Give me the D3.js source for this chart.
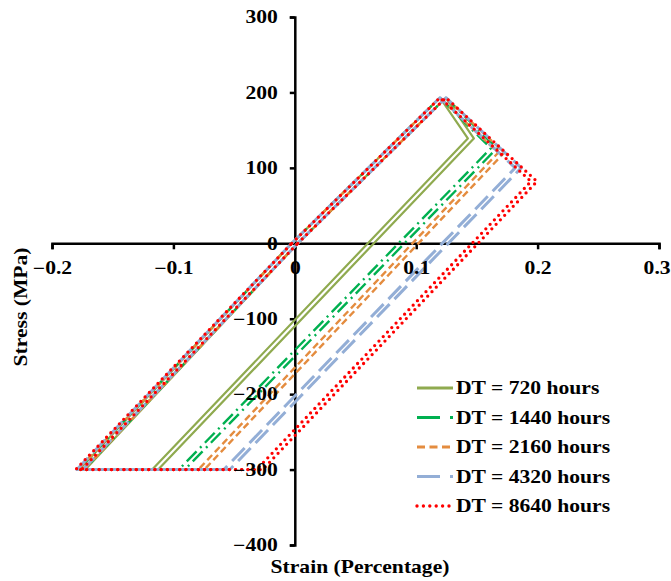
<!DOCTYPE html>
<html>
<head>
<meta charset="utf-8">
<script src="https://cdn.jsdelivr.net/npm/d3@7"></script>
<style>
  body { margin: 0; background: #fff; }
  text { font-family: "Liberation Serif", "Times New Roman", serif; font-weight: bold; font-size: 18px; fill: #000; }
</style>
</head>
<body>
<div id="chart"></div>
<script>
var svgWidth = 671;
var svgHeight = 581;

// tick labels
var xTicks = [-0.2, -0.1, 0, 0.1, 0.2, 0.3];
var yTicks = [300, 200, 100, 0, -100, -200, -300, -400];

// series: strain in %, stress in MPa
var seriesNames = ["DT = 720 hours", "DT = 1440 hours", "DT = 2160 hours", "DT = 4320 hours", "DT = 8640 hours"];
var strain720  = [0, 0.122, 0.145, -0.115, -0.175, 0];
var stress720  = [0, 193, 139, -300, -300, 0];
var strain1440 = [0, 0.122, 0.164, -0.093, -0.176, 0];
var stress1440 = [0, 193, 126, -300, -300, 0];
var strain2160 = [0, 0.122, 0.170, -0.077, -0.176, 0];
var stress2160 = [0, 193, 120, -300, -300, 0];
var strain4320 = [0, 0.122, 0.184, -0.056, -0.177, 0];
var stress4320 = [0, 193, 100, -300, -300, 0];
var strain8640 = [0, 0.122, 0.197, -0.029, -0.178, 0];
var stress8640 = [0, 193, 82, -300, -300, 0];

var strains = [strain720, strain1440, strain2160, strain4320, strain8640];
var stresses = [stress720, stress1440, stress2160, stress4320, stress8640];

// styles
var colors = ["#8FAA4F", "#00B050", "#E48C3F", "#93AED6", "#FF0000"];
var widths = [2.2, 2.4, 2.4, 3, 3.3];
var dashes = [null, "14,5,2,5", "7,4", "18,7", "0,6.2"];
var legendDashes = [null, "23,10,3,10", "8,4.5", "23,10", "0,6.4"];

var svg = d3.select("#chart")
  .append("svg")
  .attr("width", svgWidth)
  .attr("height", svgHeight);

var x = d3.scaleLinear().domain([-0.2, 0.3]).range([52, 659]);
var y = d3.scaleLinear().domain([-400, 300]).range([545, 17]);

// axis lines (labels drawn later, on top)
svg.append("g")
  .attr("transform", `translate(0, ${y(0)})`)
  .call(d3.axisBottom(x).tickValues(xTicks).tickSize(6).tickFormat(""));
svg.append("g")
  .attr("transform", `translate(${x(0)}, 0)`)
  .call(d3.axisLeft(y).tickValues(yTicks).tickSize(5).tickFormat(""));
svg.selectAll(".domain, .tick line").attr("stroke", "#000").attr("stroke-width", 2.5);

// loops: each one drawn as a double line
var line = d3.line()
  .x(d => x(d[0]))
  .y(d => y(d[1]));

strains.forEach(function(s, i) {
  var pts = s.map((v, j) => [v, stresses[i][j]]);
  [-3, 3].forEach(function(off) {
    svg.append("path")
      .attr("d", line(pts))
      .attr("transform", `translate(${off}, 0)`)
      .attr("fill", "none")
      .attr("stroke", colors[i])
      .attr("stroke-width", widths[i])
      .attr("stroke-dasharray", dashes[i])
      .attr("stroke-linecap", i == 4 ? "round" : "butt")
      .attr("stroke-linejoin", "round");
  });
});

// tick labels
var xLab = svg.append("g")
  .attr("transform", `translate(0, ${y(0)})`)
  .call(d3.axisBottom(x).tickValues(xTicks).tickSize(6).tickPadding(12).tickFormat(d3.format("")));
var yLab = svg.append("g")
  .attr("transform", `translate(${x(0)}, 0)`)
  .call(d3.axisLeft(y).tickValues(yTicks).tickSize(5).tickPadding(12).tickFormat(d3.format("")));
[xLab, yLab].forEach(function(g) {
  g.select(".domain").remove();
  g.selectAll(".tick line").remove();
  g.attr("font-family", null).attr("font-size", null);
  g.selectAll("text").attr("fill", "#000").attr("transform", "scale(1.2,1)");
});
yLab.selectAll("text").attr("x", -17 / 1.2);
xLab.selectAll("text").filter(d => d == 0.3).attr("x", -2);

// axis titles
svg.append("text")
  .attr("transform", "translate(360, 573) scale(1.2,1)")
  .attr("text-anchor", "middle")
  .text("Strain (Percentage)");

svg.append("text")
  .attr("transform", "translate(27, 307) rotate(-90) scale(1.2,1)")
  .attr("text-anchor", "middle")
  .text("Stress (MPa)");

// legend
var legend = svg.append("g");
seriesNames.forEach(function(name, i) {
  var ly = 388 + i * 29.5;
  legend.append("line")
    .attr("x1", 417).attr("x2", 453)
    .attr("y1", ly).attr("y2", ly)
    .attr("stroke", colors[i])
    .attr("stroke-width", i == 4 ? 3.4 : 3)
    .attr("stroke-dasharray", legendDashes[i])
    .attr("stroke-linecap", i == 4 ? "round" : "butt");
  legend.append("text")
    .attr("transform", `translate(456, ${ly}) scale(1.2,1)`)
    .attr("dy", "0.35em")
    .text(name);
});
</script>
</body>
</html>
